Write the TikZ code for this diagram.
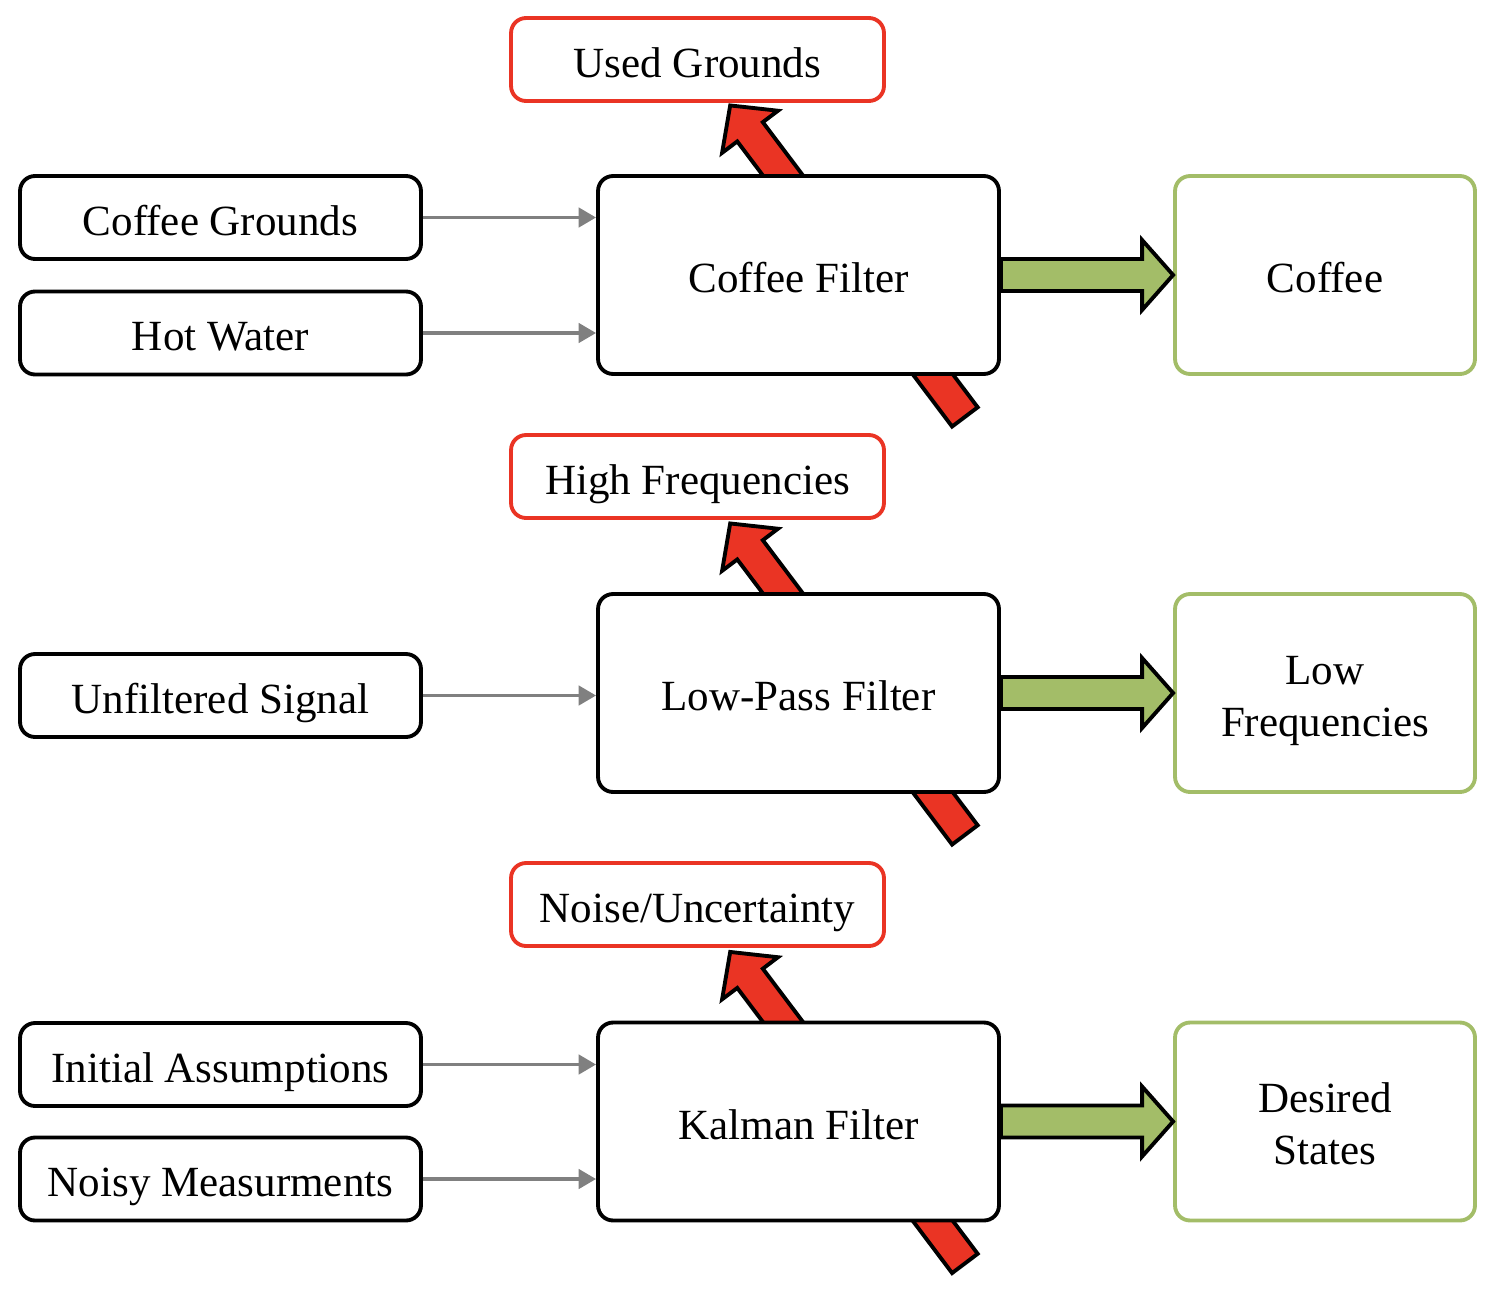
\documentclass[tikz,border=0pt]{standalone}
\usepackage{fontspec}
\setmainfont{Liberation Serif}
\usetikzlibrary{arrows.meta,calc,backgrounds}
\definecolor{leakred}{RGB}{234,52,36}
\definecolor{keepgreen}{RGB}{163,189,104}

\begin{document}
\begin{tikzpicture}[x=0.02cm,y=-0.02cm,
  font=\fontsize{24.5}{29.5}\selectfont,
  box/.style={draw, line width=2.2pt, rounded corners=0.3cm, fill=white, inner sep=0pt,
    align=center, text height=23.3pt, text depth=3.2pt},
  inbox/.style={box, minimum width=8.02cm, minimum height=1.66cm},
  filt/.style={box, minimum width=8.02cm, minimum height=3.96cm},
  outbox/.style={box, draw=keepgreen, minimum width=6.0cm, minimum height=3.96cm},
  twoline/.style={text height=54.5pt, text depth=5.3pt},
  junk/.style={box, draw=leakred, minimum width=7.46cm, minimum height=1.66cm},
  feed/.style={draw=gray, line width=2.2pt, -{Triangle[length=10pt,width=11pt]}},
  keep/.style={fill=keepgreen, draw=black, line width=2.2pt},
  leak/.style={fill=leakred, draw=black, line width=2.2pt}]
\useasboundingbox (0,0) rectangle (1494,1288);

% coffee
\node[inbox] (cg) at (220.5,217.5) {Coffee Grounds};
\node[inbox] (hw) at (220.5,333) {Hot Water};
\node[filt] (cf) at (798.5,275) {Coffee Filter};
\node[outbox] (cof) at (1325,275) {Coffee};
\node[junk] (ug) at (697.5,59.5) {Used Grounds};

% low-pass
\node[inbox] (us) at (220.5,695.5) {Unfiltered Signal};
\node[filt] (lp) at (798.5,693) {Low-Pass Filter};
\node[outbox, twoline] (lf) at (1325,693) {Low\\Frequencies};
\node[junk] (hf) at (697.5,476.5) {High Frequencies};

% kalman
\node[inbox] (ia) at (220.5,1064.5) {Initial Assumptions};
\node[inbox] (nm) at (220.5,1179) {Noisy Measurments};
\node[filt] (kf) at (798.5,1121.5) {Kalman Filter};
\node[outbox, twoline] (ds) at (1325,1121.5) {Desired\\States};
\node[junk] (nu) at (697.5,904.5) {Noise/Uncertainty};

% inputs
\draw[feed] (cg.east) -- (cf.west |- cg.east);
\draw[feed] (hw.east) -- (cf.west |- hw.east);
\draw[feed] (us.east) -- (lp.west |- us.east);
\draw[feed] (ia.east) -- (kf.west |- ia.east);
\draw[feed] (nm.east) -- (kf.west |- nm.east);

% what passes through
\foreach \f/\o in {cf/cof,lp/lf,kf/ds}
  \draw[keep] ($(\f.east)+(0,-16)$) -- ($(\o.west)+(-31,-16)$) -- ++(0,-19) -- (\o.west)
    -- ($(\o.west)+(-31,35)$) -- ++(0,-19) -- ($(\f.east)+(0,16)$) -- cycle;

% what is held back
\begin{scope}[on background layer]
\foreach \f in {cf,lp,kf}
  \draw[leak, shift={($(\f.south east)+(-36,41)$)}, rotate=127]
    (0,-16) -- (357,-16) -- (357,-35) -- (390,0) -- (357,35) -- (357,16) -- (0,16) -- cycle;
\end{scope}
\end{tikzpicture}
\end{document}
